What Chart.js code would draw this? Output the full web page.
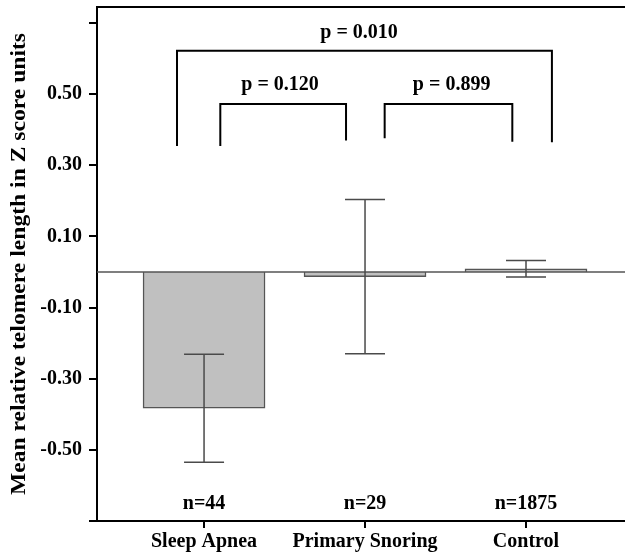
<!DOCTYPE html>
<html>
<head>
<meta charset="utf-8">
<script src="https://cdn.jsdelivr.net/npm/chart.js@4.4.1/dist/chart.umd.min.js"></script>
<style>
  body { margin: 0; background: #fff; }
  canvas { display: block; }
</style>
</head>
<body>
<canvas id="myChart" width="625" height="559"></canvas>
<script>
// Data
const categories = ["Sleep Apnea", "Primary Snoring", "Control"];
const means = [-0.383, -0.013, 0.009];
const errors = [0.152, 0.217, 0.023];
const sampleSizes = ["n=44", "n=29", "n=1875"];
const yTickValues = [-0.7, -0.5, -0.3, -0.1, 0.1, 0.3, 0.5, 0.7];

// significance brackets (x in category units, y in Z units)
const pLabels = ["p = 0.010", "p = 0.120", "p = 0.899"];
const pFrom = [-0.168, 0.101, 1.122];
const pTo = [2.161, 0.882, 1.915];
const pLevel = [0.622, 0.472, 0.472];
const pLegLeft = [0.354, 0.354, 0.376];
const pLegRight = [0.365, 0.37, 0.366];
const pTextY = [0.672, 0.525, 0.525];
const pTextX = [0.963, 0.472, 1.538];
const nTextY = -0.652;

const serif = "'Liberation Serif', 'Times New Roman', serif";

const extras = {
  id: "extras",
  afterDatasetsDraw(chart) {
    const ctx = chart.ctx;
    const xs = chart.scales.x;
    const ys = chart.scales.y;
    const area = chart.chartArea;
    ctx.save();

    // zero line
    ctx.strokeStyle = "#555";
    ctx.lineWidth = 1.5;
    ctx.beginPath();
    ctx.moveTo(area.left, ys.getPixelForValue(0));
    ctx.lineTo(area.right, ys.getPixelForValue(0));
    ctx.stroke();

    // error bars
    ctx.strokeStyle = "#4a4a4a";
    ctx.lineWidth = 1.5;
    means.forEach((m, i) => {
      const x = xs.getPixelForValue(i);
      const top = ys.getPixelForValue(m + errors[i]);
      const bot = ys.getPixelForValue(m - errors[i]);
      ctx.beginPath();
      ctx.moveTo(x, top); ctx.lineTo(x, bot);
      ctx.moveTo(x - 20, top); ctx.lineTo(x + 20, top);
      ctx.moveTo(x - 20, bot); ctx.lineTo(x + 20, bot);
      ctx.stroke();
    });

    // top border
    ctx.strokeStyle = "#000";
    ctx.lineWidth = 2;
    ctx.beginPath();
    ctx.moveTo(area.left, area.top);
    ctx.lineTo(area.right, area.top);
    ctx.stroke();

    // brackets
    ctx.lineWidth = 2;
    pLabels.forEach((lab, i) => {
      const x1 = xs.getPixelForValue(pFrom[i]);
      const x2 = xs.getPixelForValue(pTo[i]);
      const y = ys.getPixelForValue(pLevel[i]);
      ctx.beginPath();
      ctx.moveTo(x1, ys.getPixelForValue(pLegLeft[i]));
      ctx.lineTo(x1, y);
      ctx.lineTo(x2, y);
      ctx.lineTo(x2, ys.getPixelForValue(pLegRight[i]));
      ctx.stroke();
    });

    ctx.fillStyle = "#000";
    ctx.font = "bold 20px " + serif;
    ctx.textAlign = "center";
    ctx.textBaseline = "middle";
    pLabels.forEach((lab, i) => {
      ctx.fillText(lab, xs.getPixelForValue(pTextX[i]), ys.getPixelForValue(pTextY[i]));
    });
    sampleSizes.forEach((lab, i) => {
      ctx.fillText(lab, xs.getPixelForValue(i), ys.getPixelForValue(nTextY));
    });

    // y axis title (the original is stretched along its length)
    ctx.translate(20, 264);
    ctx.rotate(-Math.PI / 2);
    ctx.scale(1.18, 1);
    ctx.fillText("Mean relative telomere length in Z score units", 0, 0);
    ctx.restore();
  }
};

const ctx = document.getElementById("myChart");
new Chart(ctx, {
  type: "bar",
  data: {
    datasets: [{
      data: means.map((m, i) => ({ x: i, y: m })),
      backgroundColor: "#c0c0c0",
      borderColor: "#555",
      borderWidth: 1.5,
      barThickness: 122
    }]
  },
  options: {
    responsive: false,
    animation: false,
    layout: { padding: { top: 7, left: 0, right: 0, bottom: 0 } },
    plugins: { legend: { display: false }, tooltip: { enabled: false } },
    scales: {
      x: {
        type: "linear",
        offset: false,
        min: -0.665,
        max: 2.615,
        afterBuildTicks: s => { s.ticks = categories.map((c, i) => ({ value: i })); },
        afterFit: s => { s.height = 38; s.paddingLeft = 0; s.paddingRight = 0; },
        ticks: {
          callback: v => categories[v],
          color: "#000",
          font: { family: serif, size: 20, weight: "bold" },
          padding: 2,
          maxRotation: 0,
          autoSkip: false
        },
        grid: { offset: false, drawOnChartArea: false, tickLength: 7, color: "#000", lineWidth: 2 },
        border: { color: "#000", width: 2 }
      },
      y: {
        min: -0.7,
        max: 0.745,
        afterBuildTicks: s => { s.ticks = yTickValues.map(v => ({ value: v })); },
        afterFit: s => { s.width = 97; s.paddingTop = 0; s.paddingBottom = 0; },
        ticks: {
          callback: v => (Math.abs(v) > 0.6 ? "" : v.toFixed(2)),
          color: "#000",
          font: { family: serif, size: 20, weight: "bold" },
          padding: 7
        },
        grid: { drawOnChartArea: false, tickLength: 8, color: "#000", lineWidth: 2 },
        border: { color: "#000", width: 2 }
      }
    }
  },
  plugins: [extras]
});
</script>
</body>
</html>
